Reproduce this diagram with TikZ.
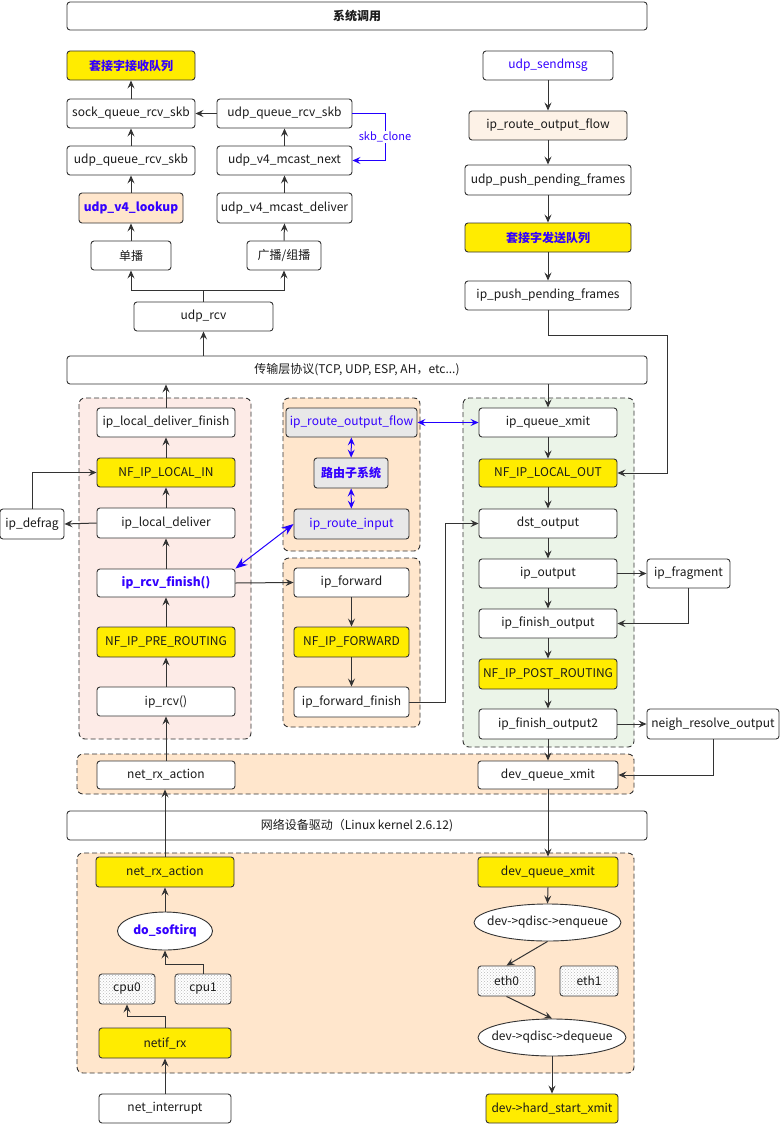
\documentclass[tikz,border=0pt]{standalone}
\usepackage{fontspec}
\setmainfont{Noto Sans CJK SC}
\usetikzlibrary{arrows.meta,patterns,shapes.geometric}
\definecolor{lc}{HTML}{333333}
\definecolor{txt}{HTML}{1A1A1A}
\definecolor{bluet}{HTML}{3300FF}
\definecolor{bline}{HTML}{2200FF}
\definecolor{yel}{HTML}{FFEC00}
\definecolor{orng}{HTML}{FFE6CC}
\definecolor{pinkg}{HTML}{FDEBE7}
\definecolor{greeng}{HTML}{EBF4E8}
\definecolor{lpeach}{HTML}{FDF2E7}
\definecolor{grayb}{HTML}{E8E8E8}
\tikzset{
  box/.style={draw=lc, rounded corners=3pt, fill=white, inner sep=0pt, align=center, text=txt, line width=0.9pt},
  yl/.style={fill=yel},
  bb/.style={text=bluet, font=\fontsize{12}{14}\selectfont\bfseries},
  bt/.style={text=bluet},
  grp/.style={draw=lc, dash pattern=on 5pt off 3pt, rounded corners=6pt, line width=0.9pt},
  arr/.style={draw=lc, line width=1pt, -{Stealth[length=8pt,width=7pt,inset=3pt]}},
  barr/.style={draw=bline, line width=1pt, {Stealth[length=8pt,width=7pt,inset=3pt]}-{Stealth[length=8pt,width=7pt,inset=3pt]}},
  bigbarr/.style={draw=bline, line width=1pt, {Stealth[length=12pt,width=9pt,inset=4pt]}-{Stealth[length=12pt,width=9pt,inset=4pt]}},
  dotbox/.style={fill=white, postaction={pattern=crosshatch dots, pattern color=gray!55}},
  ell/.style={ellipse, draw=lc, fill=white, inner sep=0pt, text=txt, line width=0.9pt}
}
\begin{document}
\begin{tikzpicture}[x=1pt,y=-1pt, font=\fontsize{12}{14}\selectfont]
\useasboundingbox (0,0) rectangle (780,1124);

% groups
\draw[grp, fill=pinkg] (79,398) rectangle (251,739);
\draw[grp, fill=orng] (283,398) rectangle (420,551);
\draw[grp, fill=orng] (283,558) rectangle (420,727);
\draw[grp, fill=greeng] (463,398) rectangle (634,747);
\draw[grp, fill=orng] (77,754) rectangle (634,794);
\draw[grp, fill=orng] (77,853) rectangle (634,1073);

% top
\node[box, minimum width=580pt, minimum height=28pt, font=\fontsize{12}{14}\selectfont\bfseries] (sys) at (357,16) {系统调用};
\node[box, minimum width=128pt, minimum height=29pt, yl, bb] (rq) at (131,65.5) {套接字接收队列};
\node[box, minimum width=128pt, minimum height=29pt] (sqrs) at (131,113.5) {sock\_queue\_rcv\_skb};
\node[box, minimum width=135pt, minimum height=29pt] (uqrs2) at (284.5,113.5) {udp\_queue\_rcv\_skb};
\node[box, minimum width=128pt, minimum height=29pt] (uqrs) at (131,160.5) {udp\_queue\_rcv\_skb};
\node[box, minimum width=135pt, minimum height=29pt] (mnext) at (284.5,160.5) {udp\_v4\_mcast\_next};
\node[box, minimum width=104pt, minimum height=30pt, fill=orng, bb] (lookup) at (131,208) {udp\_v4\_lookup};
\node[box, minimum width=135pt, minimum height=30pt] (mdeliver) at (284.5,208) {udp\_v4\_mcast\_deliver};
\node[box, minimum width=80pt, minimum height=29pt] (uni) at (131,255.5) {单播};
\node[box, minimum width=74pt, minimum height=29pt] (bc) at (284,255.5) {广播/组播};
\node[box, minimum width=139pt, minimum height=29pt] (udprcv) at (203.5,316.5) {udp\_rcv};

\node[box, minimum width=130pt, minimum height=29pt, bt] (sendmsg) at (548,65.5) {udp\_sendmsg};
\node[box, minimum width=158pt, minimum height=29pt, fill=lpeach] (rof1) at (548,125.5) {ip\_route\_output\_flow};
\node[box, minimum width=166pt, minimum height=30pt] (uppf) at (548,180) {udp\_push\_pending\_frames};
\node[box, minimum width=166pt, minimum height=29pt, yl, bb] (sq) at (548,237.5) {套接字发送队列};
\node[box, minimum width=166pt, minimum height=29pt] (ippf) at (548,295.5) {ip\_push\_pending\_frames};

\node[box, minimum width=580pt, minimum height=28pt] (trans) at (357,370) {传输层协议(TCP, UDP, ESP, AH，etc...)};

% left group
\node[box, minimum width=138pt, minimum height=29pt] (ldf) at (166,422.5) {ip\_local\_deliver\_finish};
\node[box, minimum width=138pt, minimum height=29pt, yl] (lin) at (166,472.5) {NF\_IP\_LOCAL\_IN};
\node[box, minimum width=138pt, minimum height=30pt] (ld) at (166,523) {ip\_local\_deliver};
\node[box, minimum width=138pt, minimum height=28pt, bb] (rcvf) at (166,583) {ip\_rcv\_finish()};
\node[box, minimum width=138pt, minimum height=30pt, yl] (pre) at (166,642) {NF\_IP\_PRE\_ROUTING};
\node[box, minimum width=138pt, minimum height=29pt] (rcv) at (166,701.5) {ip\_rcv()};
\node[box, minimum width=64pt, minimum height=30pt] (defrag) at (32,524) {ip\_defrag};

% middle groups
\node[box, minimum width=131pt, minimum height=29pt, fill=grayb, bt] (rof2) at (351.5,422.5) {ip\_route\_output\_flow};
\node[box, minimum width=74pt, minimum height=30pt, fill=grayb, bb] (rsub) at (351,473) {路由子系统};
\node[box, minimum width=115pt, minimum height=30pt, fill=grayb, bt] (rin) at (351.5,524) {ip\_route\_input};
\node[box, minimum width=115pt, minimum height=29pt] (fwd) at (351.5,582.5) {ip\_forward};
\node[box, minimum width=115pt, minimum height=30pt, yl] (nffwd) at (351.5,642) {NF\_IP\_FORWARD};
\node[box, minimum width=115pt, minimum height=30pt] (fwdf) at (351.5,702) {ip\_forward\_finish};

% right group
\node[box, minimum width=138pt, minimum height=29pt] (qx) at (548,422.5) {ip\_queue\_xmit};
\node[box, minimum width=138pt, minimum height=28pt, yl] (lout) at (548,473) {NF\_IP\_LOCAL\_OUT};
\node[box, minimum width=138pt, minimum height=29pt] (dst) at (548,523.5) {dst\_output};
\node[box, minimum width=138pt, minimum height=29pt] (ipo) at (548,573.5) {ip\_output};
\node[box, minimum width=138pt, minimum height=29pt] (fo) at (548,623.5) {ip\_finish\_output};
\node[box, minimum width=138pt, minimum height=30pt, yl] (post) at (548,674) {NF\_IP\_POST\_ROUTING};
\node[box, minimum width=138pt, minimum height=30pt] (fo2) at (548,724) {ip\_finish\_output2};
\node[box, minimum width=83pt, minimum height=29pt] (frag) at (688.5,573.5) {ip\_fragment};
\node[box, minimum width=132pt, minimum height=30pt] (neigh) at (713,724) {neigh\_resolve\_output};

% strip
\node[box, minimum width=138pt, minimum height=28pt] (nra1) at (166,775) {net\_rx\_action};
\node[box, minimum width=140pt, minimum height=28pt] (dqx1) at (548,775) {dev\_queue\_xmit};
\node[box, minimum width=580pt, minimum height=29pt] (drv) at (357,825.5) {网络设备驱动（Linux kernel 2.6.12)};

% bottom group
\node[box, minimum width=138pt, minimum height=30pt, yl] (nra2) at (165,872) {net\_rx\_action};
\node[ell, minimum width=95pt, minimum height=38pt, inner xsep=-3pt, bb] (soft) at (165,931) {do\_softirq};
\node[box, minimum width=56pt, minimum height=30pt, dotbox] (cpu0) at (127,989) {cpu0};
\node[box, minimum width=56pt, minimum height=30pt, dotbox] (cpu1) at (203,989) {cpu1};
\node[box, minimum width=132pt, minimum height=30pt, yl] (netif) at (165,1043) {netif\_rx};
\node[box, minimum width=132pt, minimum height=29pt] (nint) at (165,1108.5) {net\_interrupt};

\node[box, minimum width=140pt, minimum height=30pt, yl] (dqx2) at (548,872) {dev\_queue\_xmit};
\node[ell, minimum width=147pt, minimum height=37pt, inner xsep=-10pt] (enq) at (547.5,922.5) {dev->qdisc->enqueue};
\node[box, minimum width=57pt, minimum height=30pt, dotbox] (eth0) at (506.5,981) {eth0};
\node[box, minimum width=58pt, minimum height=30pt, dotbox] (eth1) at (589,981) {eth1};
\node[ell, minimum width=148pt, minimum height=37pt, inner xsep=-10pt] (deq) at (552,1037.5) {dev->qdisc->dequeue};
\node[box, minimum width=132pt, minimum height=29pt, yl] (hsx) at (552,1108.5) {dev->hard\_start\_xmit};

% coordinates
\coordinate (j1) at (203.5,290);
\coordinate (c1) at (667,335);
\coordinate (c2) at (445,0);
\coordinate (c3) at (0,964);
\coordinate (c4) at (0,1016);

% connectors top
\draw[arr] (sqrs.north) -- (rq.south);
\draw[arr] (uqrs.north) -- (sqrs.south);
\draw[arr] (uqrs2.west) -- (sqrs.east);
\draw[arr] (lookup.north) -- (uqrs.south);
\draw[arr] (uni.north) -- (lookup.south);
\draw[arr] (mdeliver.north) -- (mnext.south);
\draw[arr] (mnext.north) -- (uqrs2.south);
\draw[arr] (bc.north) -- (mdeliver.south);
\draw[arr] (udprcv.north) -- (j1) -| (uni.south);
\draw[arr] (j1) -| (bc.south);
\draw[draw=bline, line width=1pt, -{Stealth[length=8pt,width=7pt,inset=3pt]}] (uqrs2.east) -- ++(33,0) coordinate (k1) |- (mnext.east);
\node[fill=white, text=bluet, inner sep=1pt, font=\fontsize{11}{13}\selectfont] (skbl) at (385,137) {skb\_clone};
\draw[arr] (udprcv.south |- trans.north) -- (udprcv.south);

\draw[arr] (sendmsg) -- (rof1);
\draw[arr] (rof1) -- (uppf);
\draw[arr] (uppf) -- (sq);
\draw[arr] (sq) -- (ippf);
\draw[arr] (ippf.south) |- (c1) |- (lout.east);

% left
\draw[arr] (ldf.north) -- (ldf.north |- trans.south);
\draw[arr] (lin) -- (ldf);
\draw[arr] (ld) -- (lin);
\draw[arr] (rcvf) -- (ld);
\draw[arr] (pre) -- (rcvf);
\draw[arr] (rcv) -- (pre);
\draw[arr] (ld.west) -- (defrag.east);
\draw[arr] (defrag.north) |- (lin.west);
\draw[arr] (rcvf.east) -- (fwd.west);

% middle
\draw[arr] (fwd) -- (nffwd);
\draw[arr] (nffwd) -- (fwdf);
\draw[arr] (fwdf.east) -| (c2 |- dst.west) -- (dst.west);
\draw[barr] (rof2) -- (rsub);
\draw[barr] (rsub) -- (rin);
\draw[barr] (rof2.east) -- (qx.west);
\draw[bigbarr] (rcvf.north east) -- (rin.west);

% right
\draw[arr] (qx.north |- trans.south) -- (qx.north);
\draw[arr] (qx) -- (lout);
\draw[arr] (lout) -- (dst);
\draw[arr] (dst) -- (ipo);
\draw[arr] (ipo) -- (fo);
\draw[arr] (fo) -- (post);
\draw[arr] (post) -- (fo2);
\draw[arr] (ipo.east) -- (frag.west);
\draw[arr] (frag.south) |- (fo.east);
\draw[arr] (fo2.east) -- (neigh.west);
\draw[arr] (fo2.south) -- (dqx1.north);
\draw[arr] (neigh.south) |- (dqx1.east);

% bottom
\draw[arr] (nra1.north) -- (rcv.south);
\draw[arr] (nra2.north) -- (nra2.north |- nra1.south);
\draw[arr] (soft.north) -- (nra2.south);
\draw[arr] (cpu1.north) -- (cpu1.north |- c3) -| (soft.south);
\draw[arr] (netif.north) -- (netif.north |- c4) -| (cpu0.south);
\draw[arr] (nint.north) -- (netif.south);

\draw[arr] (dqx1.south) -- (dqx2.north);
\draw[arr] (dqx2.south) -- (enq.north);
\draw[arr] (enq.south) -- (eth0.north);
\draw[arr] (eth0.south) -- (deq.north);
\draw[arr] (deq.south) -- (hsx.north);
\end{tikzpicture}
\end{document}
